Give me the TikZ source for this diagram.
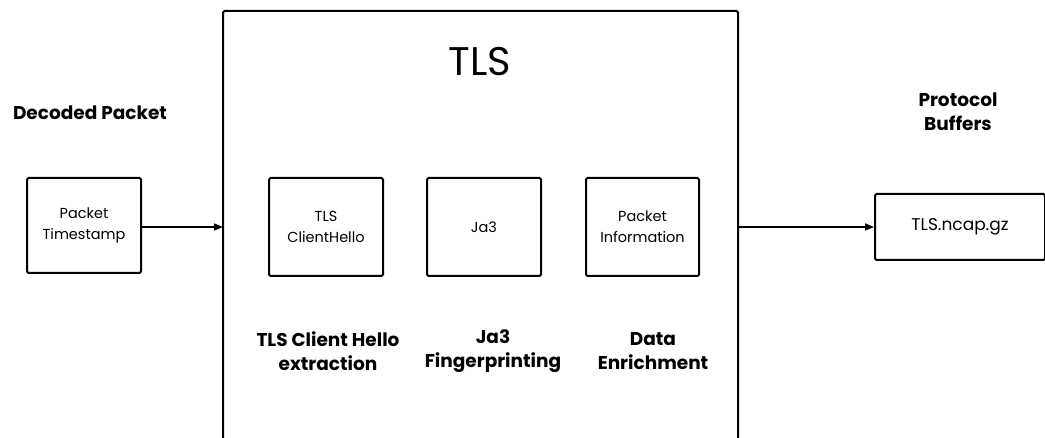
\documentclass[tikz,border=0pt]{standalone}
\usepackage{fontspec}
\setmainfont{Poppins}
\usetikzlibrary{arrows.meta}
\begin{document}
\begin{tikzpicture}[x=1pt,y=-1pt,
  box/.style={draw,line width=2pt,rounded corners=1.5pt,align=center,font=\fontsize{14.5}{21}\selectfont},
  lbl/.style={align=center,font=\fontsize{18.5}{24}\selectfont\bfseries},
  conn/.style={line width=1.6pt,-{Triangle[length=9pt,width=7pt]}}]
\useasboundingbox (0,0) rectangle (1045,438);
\draw[line width=2pt,rounded corners=1.5pt] (223,445) -- (223,11) -- (738,11) -- (738,445);
\coordinate (tlsL) at (223,227);
\coordinate (tlsR) at (738,227);
\node[font=\fontsize{40}{46}\selectfont] (title) at (480,62) {TLS};
\node[lbl] (dec) at (90,113) {Decoded Packet};
\node[lbl] (pb) at (958,112) {Protocol\\Buffers};
\node[box,minimum width=114pt,minimum height=95pt] (pt) at (84,225.5) {Packet\\Timestamp};
\node[box,minimum width=114pt,minimum height=98pt] (ch) at (326,227) {TLS\\ClientHello};
\node[box,minimum width=114pt,minimum height=98pt] (ja) at (484,227) {Ja3};
\node[box,minimum width=113pt,minimum height=98pt] (pi) at (642.5,227) {Packet\\Information};
\node[box,minimum width=170pt,minimum height=66pt,font=\fontsize{17}{20}\selectfont] (out) at (960,227) {TLS.ncap.gz};
\node[lbl] (l1) at (328,351) {TLS Client Hello\\extraction};
\node[lbl] (l2) at (493,351) {Ja3\\Fingerprinting};
\node[lbl] (l3) at (653,351) {Data\\Enrichment};
\draw[conn] (pt.east |- tlsL) -- (tlsL);
\draw[conn] (tlsR) -- (out.west);
\end{tikzpicture}
\end{document}
